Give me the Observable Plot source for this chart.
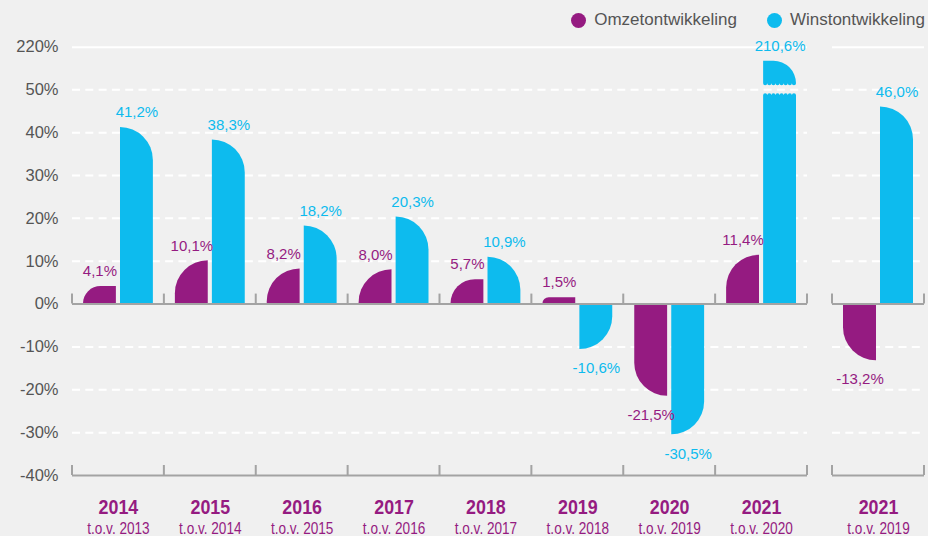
<!DOCTYPE html>
<html>
<head>
<meta charset="utf-8">
<script src="https://cdn.jsdelivr.net/npm/d3@7"></script>
<script src="https://cdn.jsdelivr.net/npm/@observablehq/plot@0.6"></script>
<style>
  html, body { margin: 0; padding: 0; background: #f0f0f0; }
  body { width: 928px; height: 536px; overflow: hidden; font-family: "Liberation Sans", Arial, sans-serif; }
  #legend { height: 34px; box-sizing: border-box; padding-top: 6px; padding-right: 3px;
            display: flex; justify-content: flex-end; align-items: center; font-size: 17px; color: #555; }
  #legend .item { display: flex; align-items: center; margin-left: 30px; }
  #legend .sw { width: 15px; height: 15px; border-radius: 50%; margin-right: 8px; }
  #row { display: flex; }
  #row svg { display: block; overflow: visible; }
</style>
</head>
<body>
<div id="legend"></div>
<div id="row"></div>
<script>
// ---- data ----
const years     = ["2014", "2015", "2016", "2017", "2018", "2019", "2020", "2021", "2021"];
const baseYears = ["2013", "2014", "2015", "2016", "2017", "2018", "2019", "2020", "2019"];
const omzet     = [4.1, 10.1, 8.2, 8.0, 5.7, 1.5, -21.5, 11.4, -13.2];
const winst     = [41.2, 38.3, 18.2, 20.3, 10.9, -10.6, -30.5, 210.6, 46.0];
const yTicks    = [-40, -30, -20, -10, 0, 10, 20, 30, 40, 50, 220];
const seriesNames  = ["Omzetontwikkeling", "Winstontwikkeling"];
const seriesColors = ["#951b81", "#0dbbee"];
const breakAt = 50;          // axis break (values above are compressed)
const mainCount = 8;         // first panel: year-on-year; second panel: 2021 vs 2019

// ---- layout ----
const H = 502, MT = 12.7, MB = 61;
const yDomain = [-40, breakAt, 200, 220];
const yRange  = [H - MB, 55.3, 42.5, MT];
const fontMain = '"Liberation Sans", Arial, sans-serif';
const condense = 0.85;
const fmt = v => v.toFixed(1).replace(".", ",") + "%";

const rows = years.map((y, i) => ({
  key: y + "|" + baseYears[i], year: y, base: baseYears[i], omzet: omzet[i], winst: winst[i]
}));

// legend
const legend = document.getElementById("legend");
seriesNames.forEach((n, i) => {
  const it = document.createElement("div"); it.className = "item";
  const sw = document.createElement("div"); sw.className = "sw"; sw.style.background = seriesColors[i];
  const tx = document.createElement("span"); tx.textContent = n;
  it.append(sw, tx); legend.append(it);
});

const inL = 11, inR = 48;
const [purple, cyan] = seriesColors;

function makePanel(data, width, marginLeft, marginRight, showY) {
  const grid = yTicks.filter(t => t !== 0 && t !== -40 && t !== 220);
  const marks = [
    Plot.ruleY(grid, {stroke: "#fff", strokeWidth: 2, strokeDasharray: "8,5.3"}),
    Plot.ruleY([220], {stroke: "#fff", strokeWidth: 2}),
    Plot.barY(data, {x: "key", y1: 0, y2: "omzet", fill: purple, insetLeft: inL, insetRight: inR}),
    Plot.barY(data, {x: "key", y1: 0, y2: "winst", fill: cyan, insetLeft: inR, insetRight: inL}),
    Plot.ruleY([0, -40], {stroke: "#a3a3a3", strokeWidth: 2}),
    Plot.text(data, {filter: d => d.omzet >= 0, x: "key", y: "omzet", text: d => fmt(d.omzet), dx: (inL - inR) / 2, dy: -15, fill: purple, fontSize: 15}),
    Plot.text(data, {filter: d => d.omzet < 0, x: "key", y: "omzet", text: d => fmt(d.omzet), dx: (inL - inR) / 2, dy: 19, fill: purple, fontSize: 15}),
    Plot.text(data, {filter: d => d.winst >= 0, x: "key", y: "winst", text: d => fmt(d.winst), dx: (inR - inL) / 2, dy: -15, fill: cyan, fontSize: 15}),
    Plot.text(data, {filter: d => d.winst < 0, x: "key", y: "winst", text: d => fmt(d.winst), dx: (inR - inL) / 2, dy: 19, fill: cyan, fontSize: 15}),
    Plot.text(data, {x: "key", text: "year", frameAnchor: "bottom", lineAnchor: "middle", dy: 32, fill: purple, fontSize: 21, fontWeight: "bold", fontFamily: fontMain}),
    Plot.text(data, {x: "key", text: d => "t.o.v. " + d.base, frameAnchor: "bottom", lineAnchor: "middle", dy: 53, fill: purple, fontSize: 16, fontFamily: fontMain})
  ];
  const chart = Plot.plot({
    width, height: H, marginTop: MT, marginBottom: MB, marginLeft, marginRight,
    style: {background: "transparent", fontSize: "16.5px", color: "#555", fontFamily: fontMain, overflow: "visible"},
    x: {type: "band", domain: data.map(d => d.key), padding: 0, round: false, axis: null},
    y: showY
      ? {type: "linear", domain: yDomain, range: yRange, axis: "left", ticks: yTicks, tickFormat: d => d + "%", tickSize: 0, tickPadding: 14, label: null}
      : {type: "linear", domain: yDomain, range: yRange, axis: null},
    marks
  });

  const xs = chart.scale("x"), ys = chart.scale("y");
  const ns = "http://www.w3.org/2000/svg";
  // rounded / broken bar shapes
  const groups = chart.querySelectorAll('g[aria-label="bar"]');
  [["omzet", "left"], ["winst", "right"]].forEach(([field, side], gi) => {
    const rects = groups[gi].querySelectorAll("rect");
    rects.forEach((rect, j) => {
      const v = data[j][field];
      const x = +rect.getAttribute("x"), y = +rect.getAttribute("y");
      const w = +rect.getAttribute("width"), h = +rect.getAttribute("height");
      const paths = [];
      if (v >= 0 && v > breakAt) {
        const yb = ys.apply(breakAt), up = yb - 6, lo = yb + 6, n = 8, s = w / n;
        const r = Math.min(w, up - y);
        let d1 = side === "right"
          ? `M${x},${up}V${y}H${x + w - r}A${r},${r} 0 0 1 ${x + w},${y + r}V${up}`
          : `M${x + w},${up}V${y}H${x + r}A${r},${r} 0 0 0 ${x},${y + r}V${up}`;
        if (side === "right") for (let k = 0; k < n; k++) d1 += `A${s / 2},${s / 2} 0 0 1 ${x + w - (k + 1) * s},${up}`;
        else for (let k = 0; k < n; k++) d1 += `A${s / 2},${s / 2} 0 0 0 ${x + (k + 1) * s},${up}`;
        paths.push(d1 + "Z");
        let d2 = `M${x},${lo}`;
        for (let k = 0; k < n; k++) d2 += `A${s / 2},${s / 2} 0 0 1 ${x + (k + 1) * s},${lo}`;
        paths.push(d2 + `V${y + h}H${x}Z`);
      } else if (v >= 0) {
        const r = Math.min(w, h);
        paths.push(side === "right"
          ? `M${x},${y + h}V${y}H${x + w - r}A${r},${r} 0 0 1 ${x + w},${y + r}V${y + h}Z`
          : `M${x + w},${y + h}V${y}H${x + r}A${r},${r} 0 0 0 ${x},${y + r}V${y + h}Z`);
      } else {
        const r = Math.min(w, h);
        paths.push(side === "right"
          ? `M${x},${y}H${x + w}V${y + h - r}A${r},${r} 0 0 1 ${x + w - r},${y + h}H${x}Z`
          : `M${x},${y}H${x + w}V${y + h}H${x + r}A${r},${r} 0 0 1 ${x},${y + h - r}Z`);
      }
      const frag = document.createDocumentFragment();
      paths.forEach(d => { const p = document.createElementNS(ns, "path"); p.setAttribute("d", d); frag.append(p); });
      rect.replaceWith(frag);
    });
  });

  // condensed category labels (last two text marks)
  const texts = chart.querySelectorAll('g[aria-label="text"]');
  [texts[texts.length - 2], texts[texts.length - 1]].forEach(g => {
    g.querySelectorAll("text").forEach(t => {
      t.setAttribute("transform", (t.getAttribute("transform") || "") + ` scale(${condense},1)`);
    });
  });

  // group-boundary ticks on the zero line and the bottom line
  const edges = xs.domain.map(k => xs.apply(k)).concat([xs.apply(xs.domain[xs.domain.length - 1]) + xs.bandwidth]);
  const tg = document.createElementNS(ns, "g");
  tg.setAttribute("stroke", "#a3a3a3"); tg.setAttribute("stroke-width", "2");
  edges.forEach(e => [0, -40].forEach(lv => {
    const l = document.createElementNS(ns, "line");
    l.setAttribute("x1", e); l.setAttribute("x2", e);
    l.setAttribute("y1", ys.apply(lv)); l.setAttribute("y2", ys.apply(lv) - 10);
    tg.append(l);
  }));
  chart.append(tg);
  return chart;
}

const row = document.getElementById("row");
const p1 = makePanel(rows.slice(0, mainCount), 810, 72, 3, true);
const p2 = makePanel(rows.slice(mainCount), 96, 0, 4, false);
p2.style.marginLeft = "22px";
row.append(p1, p2);
</script>
</body>
</html>
